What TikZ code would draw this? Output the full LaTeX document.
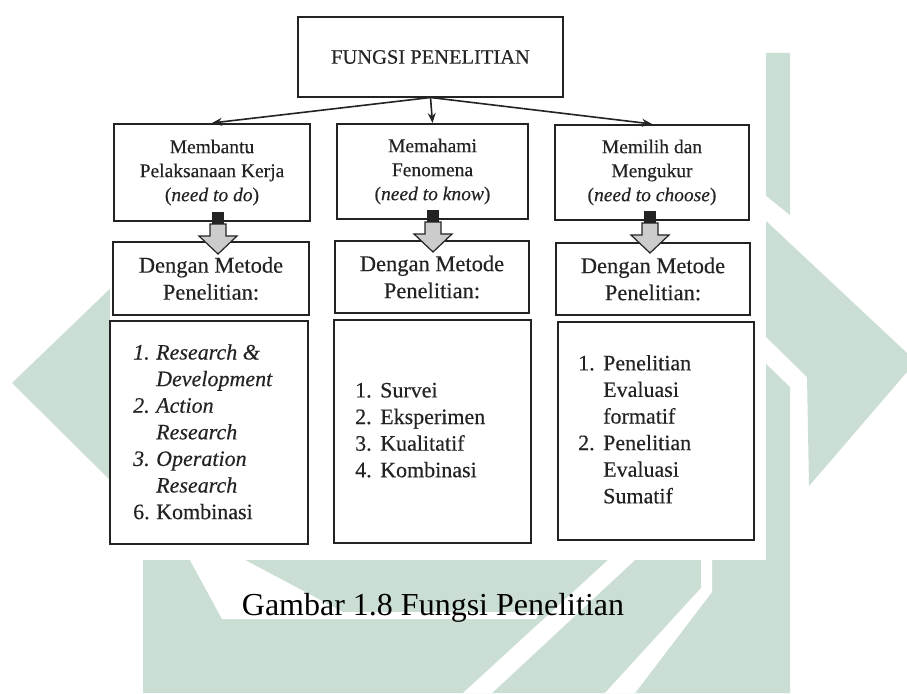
\documentclass[tikz,border=0pt]{standalone}
\usepackage{fontspec}
\setmainfont{Liberation Serif}
\newfontfamily\scanfont[FakeBold=0.35, ItalicFeatures={FakeBold=0.35}]{Liberation Serif}
\usetikzlibrary{arrows.meta}
\definecolor{wm}{RGB}{202,222,212}
\definecolor{ink}{RGB}{35,35,35}
\tikzset{
  box/.style={draw=ink, line width=2pt, rectangle, inner sep=0pt, align=center, text=ink},
  rowone/.style={box, font={\scanfont\fontsize{19.5}{24}\selectfont}},
  rowtwo/.style={box, font={\scanfont\fontsize{22.5}{27}\selectfont}},
  listtext/.style={anchor=west, inner sep=0pt, text=ink, font={\scanfont\fontsize{22}{26.6}\selectfont}},
  conn/.style={draw=ink, line width=1.6pt, -{Stealth[length=10pt,width=8pt]}},
  blockarr/.pic={
    \fill[ink] (-6,-9) rectangle (6,3);
    \draw[ink, line width=1.2pt, fill=gray!40] (-8,3) -- (8,3) -- (8,15) -- (19,15) -- (0,33) -- (-19,15) -- (-8,15) -- cycle;
  }
}
\begin{document}
\begin{tikzpicture}[x=1pt,y=-1pt]
\useasboundingbox (0,0) rectangle (907,693);
\fill[white] (0,0) rectangle (907,693);
% watermark
\fill[wm] (115,284) -- (12,383) -- (115,485) -- cycle;
\fill[wm] (765,53) -- (790,53) -- (790,215) -- (765,195) -- cycle;
\fill[wm] (765,220) -- (907,353) -- (907,372) -- (809,486) -- (807,377) -- (765,336) -- cycle;
\fill[wm] (765,363) -- (790,387) -- (790,693) -- (143,693) -- (143,560) -- (765,560) -- cycle;
\fill[white] (190,560) -- (245,560) -- (343,612) -- (540,612) -- (536,619) -- (222,619) -- cycle;
\fill[white] (463,693) -- (492,693) -- (635,560) -- (608,560) -- cycle;
\fill[white] (605,693) -- (635,693) -- (712,592) -- (712,560) -- (701,560) -- (701,588) -- cycle;
% scanned area
\fill[white] (110,0) rectangle (766,560);
% top
\node[box, minimum width=265pt, minimum height=79pt, font={\scanfont\fontsize{20.5}{24}\selectfont}] (top) at (430.5,57) {FUNGSI PENELITIAN};
% row 1
\node[rowone, minimum width=196pt, minimum height=97pt] (b1) at (212,172.5) {Membantu\\Pelaksanaan Kerja\\(\textit{need to do})};
\node[rowone, minimum width=191pt, minimum height=95pt] (b2) at (432.5,171.5) {Memahami\\Fenomena\\(\textit{need to know})};
\node[rowone, minimum width=194pt, minimum height=95pt] (b3) at (652,172.5) {Memilih dan\\Mengukur\\(\textit{need to choose})};
% connectors
\draw[conn] (top.south) -- (b1.north);
\draw[conn] (top.south) -- (b2.north);
\draw[conn] (top.south) -- (b3.north);
% row 2
\node[rowtwo, minimum width=196pt, minimum height=73pt] (c1) at (211,278.5) {Dengan Metode\\Penelitian:};
\node[rowtwo, minimum width=194pt, minimum height=72pt] (c2) at (432,277) {Dengan Metode\\Penelitian:};
\node[rowtwo, minimum width=194pt, minimum height=72pt] (c3) at (653,279) {Dengan Metode\\Penelitian:};
% block arrows
\pic at (218,221) {blockarr};
\pic at (433,219) {blockarr};
\pic at (650,220) {blockarr};
% row 3 boxes
\node[box, minimum width=198pt, minimum height=223pt] (d1) at (209,432.5) {};
\node[box, minimum width=197pt, minimum height=223pt] (d2) at (432.5,431.5) {};
\node[box, minimum width=196pt, minimum height=218pt] (d3) at (656,431) {};
% lists
\node[listtext] (t1) at (133,434) {\begin{tabular}{@{}p{23pt}@{}l@{}}
\textit{1.} & \textit{Research \&}\\
 & \textit{Development}\\
\textit{2.} & \textit{Action}\\
 & \textit{Research}\\
\textit{3.} & \textit{Operation}\\
 & \textit{Research}\\
6. & Kombinasi
\end{tabular}};
\node[listtext] (t2) at (355,432) {\begin{tabular}{@{}p{25pt}@{}l@{}}
1. & Survei\\
2. & Eksperimen\\
3. & Kualitatif\\
4. & Kombinasi
\end{tabular}};
\node[listtext] (t3) at (578,431.5) {\begin{tabular}{@{}p{25pt}@{}l@{}}
1. & Penelitian\\
 & Evaluasi\\
 & formatif\\
2. & Penelitian\\
 & Evaluasi\\
 & Sumatif
\end{tabular}};
% caption
\node[anchor=base, inner sep=0pt, font={\fontsize{32}{38}\selectfont}] (cap) at (433,615) {Gambar 1.8 Fungsi Penelitian};
\end{tikzpicture}
\end{document}
